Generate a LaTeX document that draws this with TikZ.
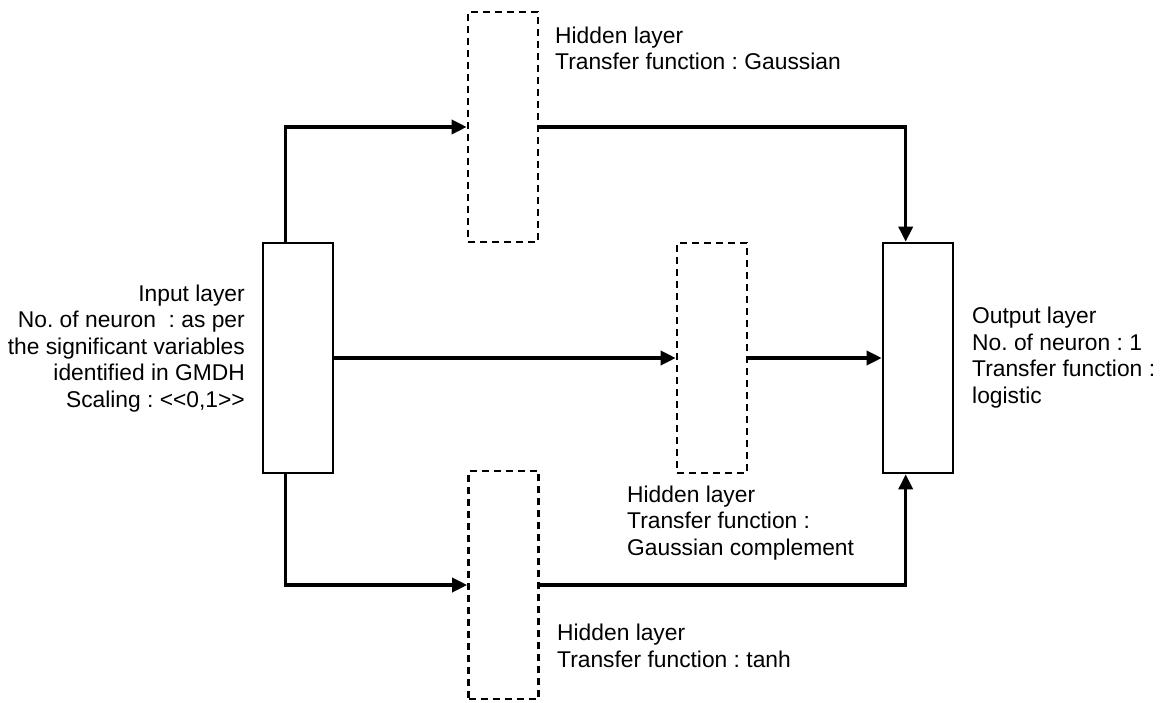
\documentclass[tikz,border=0pt]{standalone}
\usepackage{fontspec}
\setmainfont{Liberation Sans}
\usetikzlibrary{arrows.meta}
\frenchspacing
\begin{document}
\begin{tikzpicture}[x=1pt,y=-1pt,
  layer/.style={draw,line width=2.6pt,minimum width=70pt,minimum height=230pt,inner sep=0pt},
  hidden/.style={layer,dash pattern=on 7pt off 5pt},
  conn/.style={line width=3.4pt,-{Triangle[length=15pt,width=14pt]}},
  lbl/.style={inner sep=0pt,font=\fontsize{22.8pt}{26.5pt}\selectfont}]
\useasboundingbox (0,0) rectangle (1167,703);

% layers
\node[layer]  (inp)   at (298,358) {};
\node[hidden] (hgau)  at (503,127) {};
\node[hidden] (hcomp) at (712,358) {};
\node[hidden, minimum height=228pt] (htanh) at (503.5,585) {};
\node[layer]  (outp)  at (918,358) {};

% labels (anchored at the baseline of their last line)
\node[lbl,anchor=base east,align=right] (tinp) at (245,407)
  {Input layer\\No. of neuron\ \ : as per\\the significant variables\\identified in GMDH\\Scaling : {<}{<}0,1{>}{>}};
\node[lbl,anchor=base west,align=left] (tgau) at (555,70)
  {Hidden layer\\Transfer function : Gaussian};
\node[lbl,anchor=base west,align=left] (tcomp) at (627,555)
  {Hidden layer\\Transfer function :\\Gaussian complement};
\node[lbl,anchor=base west,align=left] (ttanh) at (557,667)
  {Hidden layer\\Transfer function : tanh};
\node[lbl,anchor=base west,align=left] (tout) at (972,403)
  {Output layer\\No. of neuron : 1\\Transfer function :\\logistic};

% connections
\draw[conn] ([xshift=24pt]inp.north west) |- (hgau.west);
\draw[conn] (hgau.east) -| ([xshift=24pt]outp.north west);
\draw[conn] (inp.east) -- (hcomp.west);
\draw[conn] (hcomp.east) -- (outp.west);
\draw[conn] ([xshift=24pt]inp.south west) |- (htanh.west);
\draw[conn] (htanh.east) -| ([xshift=24pt]outp.south west);
\end{tikzpicture}
\end{document}
